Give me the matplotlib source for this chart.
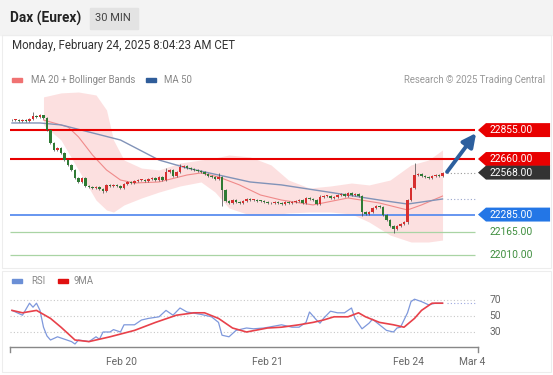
import numpy as np
import matplotlib.pyplot as plt
from matplotlib.patches import Rectangle, Polygon

plt.rcParams['font.family'] = ['Roboto', 'DejaVu Sans']

W, H = 553, 375

# ---------------- data ----------------
# 30 min candles, closes (open = previous close)
closes = [22923, 22923, 22917, 22923, 22917, 22930, 22950, 22944, 22957, 22937,
          22856, 22768, 22721, 22734, 22701, 22653, 22620, 22586, 22532, 22505,
          22532, 22478, 22471, 22464, 22471, 22458, 22444, 22485, 22478, 22485,
          22478, 22464, 22491, 22505, 22498, 22512, 22518, 22520, 22512, 22525,
          22532, 22518, 22539, 22518, 22572, 22586, 22545, 22572, 22606, 22613,
          22599, 22593, 22586, 22579, 22572, 22559, 22545, 22539, 22525, 22539,
          22451, 22377, 22363, 22383, 22370, 22363, 22377, 22390, 22383, 22385,
          22377, 22375, 22370, 22363, 22361, 22370, 22363, 22356, 22370, 22363,
          22370, 22377, 22383, 22363, 22397, 22390, 22383, 22356, 22404, 22410,
          22412, 22397, 22404, 22417, 22424, 22410, 22431, 22417, 22424, 22410,
          22302, 22289, 22302, 22329, 22343, 22336, 22282, 22248, 22208, 22188,
          22208, 22221, 22235, 22383, 22464, 22552, 22559, 22545, 22539, 22532,
          22545, 22552, 22545, 22568]
first_open = 22920
# notable wicks (bar: price)
wick_high = {6: 22975, 9: 22960, 44: 22600, 48: 22625, 59: 22565, 88: 22420, 115: 22633}
wick_low = {26: 22430, 60: 22340, 100: 22275, 109: 22160, 113: 22220}

# MA 50
ma50_x = [0, 8, 14, 22, 31, 42, 50, 59, 68, 77, 92, 105, 113, 123]
ma50_y = [22903, 22903, 22890, 22842, 22788, 22653, 22599, 22552, 22505, 22485,
          22431, 22383, 22356, 22390]

# MA 20 + Bollinger
ma20_x = [9, 16, 19, 23, 27, 31, 35, 42, 50, 54, 59, 65, 71, 77, 86, 96, 105, 113, 117, 123]
ma20_y = [22923, 22876, 22809, 22687, 22586, 22518, 22498, 22505, 22552, 22566,
          22539, 22485, 22417, 22383, 22350, 22397, 22363, 22316, 22350, 22410]
bb_x = [9, 14, 19, 24, 27, 29, 32, 37, 42, 48, 54, 58, 62, 68, 74, 79, 85, 91,
        97, 102, 108, 114, 119, 123]
bb_up = [23079, 23106, 23112, 23092, 22991, 22788, 22653, 22599, 22586, 22633,
         22653, 22667, 22687, 22674, 22620, 22518, 22464, 22478, 22498, 22485,
         22518, 22620, 22653, 22721]
bb_lo = [22890, 22788, 22586, 22383, 22316, 22302, 22350, 22397, 22437, 22478,
         22505, 22437, 22329, 22282, 22282, 22296, 22302, 22302, 22289, 22235,
         22147, 22100, 22100, 22113]

resist = [22855, 22660]
last_price = 22568
support = 22285
minor = [22165, 22010]
target = 22855

# RSI panel
rsi_x = [0, 2, 3, 5, 6, 7, 8, 9, 10, 11, 12, 13, 15, 17, 18, 19, 22, 24, 25, 26,
         28, 29, 31, 32, 35, 37, 39, 42, 44, 46, 48, 50, 54, 57, 59, 60, 62, 64,
         67, 69, 72, 77, 80, 82, 84, 85, 87, 88, 89, 91, 93, 95, 97, 98, 100,
         102, 103, 105, 107, 109, 110, 111, 113, 114, 115, 117, 119, 121, 123]
rsi_y = [57, 53, 51, 66, 61, 66, 57, 36, 25, 20, 22, 24, 21, 18, 15, 20, 18, 24,
         21, 30, 30, 33, 30, 39, 39, 45, 47, 49, 57, 51, 60, 55, 52, 49, 42, 26,
         24, 32, 35, 34, 35, 39, 36, 36, 42, 55, 45, 41, 47, 56, 54, 54, 60, 47,
         34, 41, 46, 39, 32, 30, 35, 36, 54, 68, 71, 68, 64, 66, 66]
ma9_x = [0, 3, 7, 11, 14, 17, 18, 22, 28, 35, 41, 47, 52, 55, 59, 63, 67, 73, 77,
         82, 86, 89, 92, 96, 99, 101, 105, 109, 112, 115, 117, 120, 123]
ma9_y = [57, 54, 57, 47, 36, 24, 20, 18, 24, 32, 42, 51, 54, 54, 47, 35, 30, 35,
         36, 39, 42, 45, 49, 49, 54, 49, 42, 39, 36, 47, 57, 66, 66]
rsi_levels = [70, 50, 30]

tick_pos = [31.4, 72.9, 113.4, 131.5]
tick_lab = ['Feb 20', 'Feb 21', 'Feb 24', 'Mar 4']

# ---------------- figure ----------------
fig = plt.figure(figsize=(W / 100, H / 100), dpi=100)
fig.patch.set_facecolor('white')


def fx(x):
    return x / W


def fy(y):
    return 1 - y / H


# header band
fig.patches.append(Rectangle((0, fy(35)), 1, 35 / H, transform=fig.transFigure,
                             color='#f3f3f3', zorder=0))
fig.patches.append(Rectangle((fx(90), fy(29)), 48 / W, 21 / H, transform=fig.transFigure,
                             color='#e3e3e3', zorder=1))
# card borders
fig.patches.append(Rectangle((fx(2), fy(268)), 549 / W, 233 / H, transform=fig.transFigure,
                             fill=False, ec='#ededed', lw=0.8))
fig.patches.append(Rectangle((fx(2), fy(372)), 549 / W, 101 / H, transform=fig.transFigure,
                             fill=False, ec='#ededed', lw=0.8))

fig.text(fx(10), fy(18), 'Dax (Eurex)', fontsize=9.8, fontweight='bold', color='#222',
         va='center')
fig.text(fx(95), fy(18), '30 MIN', fontsize=8, color='#444', va='center')
fig.text(fx(12), fy(46), 'Monday, February 24, 2025 8:04:23 AM CET', fontsize=8.3,
         color='#333', va='center')

# legend
fig.patches.append(Rectangle((fx(12), fy(82)), 10 / W, 4 / H, transform=fig.transFigure,
                             color='#f07272'))
fig.text(fx(31), fy(80), 'MA 20 + Bollinger Bands', fontsize=6.9, color='#888', va='center')
fig.patches.append(Rectangle((fx(146), fy(82)), 10 / W, 4 / H, transform=fig.transFigure,
                             color='#2f5d9a'))
fig.text(fx(164), fy(80), 'MA 50', fontsize=6.9, color='#888', va='center')
fig.text(fx(545), fy(80), 'Research \u00a9 2025 Trading Central', fontsize=6.9,
         color='#999', va='center', ha='right')

fig.patches.append(Rectangle((fx(12), fy(283)), 10 / W, 4 / H, transform=fig.transFigure,
                             color='#6b8fd6'))
fig.text(fx(31), fy(281), 'RSI', fontsize=6.9, color='#888', va='center')
fig.patches.append(Rectangle((fx(58), fy(283)), 10 / W, 4 / H, transform=fig.transFigure,
                             color='#e01010'))
fig.text(fx(73), fy(281), '9MA', fontsize=6.9, color='#888', va='center')

# ---------------- main chart ----------------
ax = fig.add_axes([fx(10), fy(262), 468 / W, 170 / H])
ax.set_xlim(-0.57, 133.14)
ax.set_ylim(21965, 23112)
ax.axis('off')

ax.fill_between(bb_x, bb_lo, bb_up, color='#fcd6d6', alpha=0.75, lw=0, zorder=1)
ax.plot(ma20_x, ma20_y, color='#f08a8a', lw=0.8, zorder=2)
ax.plot(ma50_x, ma50_y, color='#8193b8', lw=1.0, zorder=2)

opens = [first_open] + closes[:-1]
for i, (o, c) in enumerate(zip(opens, closes)):
    hi = wick_high.get(i, max(o, c) + 6)
    lo = wick_low.get(i, min(o, c) - 6)
    col = '#d62f2f' if c >= o else '#2e7a34'
    ax.vlines(i, lo, hi, color='#444', lw=0.5, zorder=3)
    bottom = min(o, c)
    height = max(abs(c - o), 5)
    ax.add_patch(Rectangle((i - 0.42, bottom), 0.84, height, color=col, zorder=4, lw=0))

x_end = 132.3
for lv in resist:
    ax.hlines(lv, -0.57, x_end, color='#e80000', lw=1.5, zorder=2)
ax.hlines(support, -0.57, x_end, color='#5b8def', lw=1.3, zorder=2)
for lv in minor:
    ax.hlines(lv, -0.57, x_end, color='#a9d4a4', lw=0.9, zorder=2)
ax.hlines(last_price, 124.2, x_end, color='#999', lw=0.8, linestyles=(0, (1, 2)))
ax.hlines(ma50_y[-1], 124.2, x_end, color='#9aa6cc', lw=0.8, linestyles=(0, (1, 2)))

ax.annotate('', xy=(132.6, target - 20), xytext=(124.3, last_price + 5),
            arrowprops=dict(arrowstyle='-|>,head_length=0.8,head_width=0.4',
                            color='#2c5f9e', lw=2.8, shrinkA=0, shrinkB=0), zorder=6)

# price tags
tr = ax.get_yaxis_transform()
half = 47
tags = [(resist[0], '#e80000', 'white'), (resist[1], '#e80000', 'white'),
        (last_price, '#333333', 'white'), (support, '#2376e6', 'white')]
for lv, fc, tc in tags:
    pts = [(1.0, lv), (1.017, lv + half), (1.154, lv + half), (1.154, lv - half),
           (1.017, lv - half)]
    ax.add_patch(Polygon(pts, closed=True, transform=tr, fc=fc, ec='none',
                         clip_on=False, zorder=5))
    ax.text(1.025, lv, '%.2f' % lv, transform=tr, color=tc, fontsize=7.4,
            va='center', ha='left', zorder=6)
for lv in minor:
    ax.text(1.025, lv, '%.2f' % lv, transform=tr, color='#3e8e3e', fontsize=7.4,
            va='center', ha='left')

# ---------------- RSI ----------------
ax2 = fig.add_axes([fx(10), fy(347), 468 / W, 57 / H])
ax2.set_xlim(-0.57, 133.14)
ax2.set_ylim(11.25, 82.5)
for s in ['top', 'right', 'left']:
    ax2.spines[s].set_visible(False)
ax2.spines['bottom'].set_color('#888')
ax2.spines['bottom'].set_linewidth(1.0)
ax2.set_yticks([])
ax2.set_xticks(tick_pos)
ax2.set_xticklabels(tick_lab, fontsize=7.4, color='#666')
ax2.tick_params(axis='x', length=0, pad=7)
ax2.plot([0, 0], [0, -0.08], transform=ax2.transAxes, color='#888', lw=1, clip_on=False)
ax2.plot([1, 1], [0, -0.08], transform=ax2.transAxes, color='#888', lw=1, clip_on=False)

for lv in rsi_levels:
    ax2.hlines(lv, -0.57, x_end, color='#c8c8c8', lw=0.8, linestyles=(0, (1, 2)))
    ax2.text(1.025, lv, str(lv), transform=ax2.get_yaxis_transform(), fontsize=7.4,
             color='#666', va='center', ha='left')
ax2.hlines(ma9_y[-1], 124.2, x_end, color='#9aa6e0', lw=0.8, linestyles=(0, (1, 2)))
ax2.plot(rsi_x, rsi_y, color='#7e98dc', lw=0.9)
ax2.plot(ma9_x, ma9_y, color='#e8414a', lw=1.2)

fig.savefig('out.png', dpi=100)
